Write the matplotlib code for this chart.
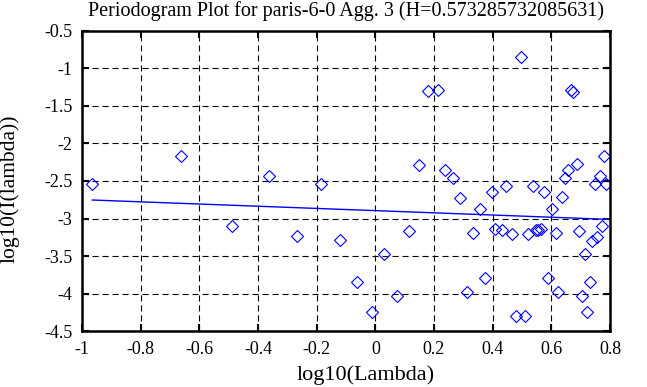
import numpy as np
import matplotlib
matplotlib.use("Agg")
import matplotlib.pyplot as plt
from matplotlib.ticker import FuncFormatter, MultipleLocator

plt.rcParams['font.family'] = ['Liberation Serif', 'DejaVu Serif']
plt.rcParams['axes.unicode_minus'] = False

# datos
log_lambda = [-0.965, -0.662, -0.490, -0.362, -0.268, -0.186, -0.120, -0.063, -0.012, 0.031,
              0.075, 0.114, 0.149, 0.179, 0.213, 0.238, 0.264, 0.287, 0.311, 0.334,
              0.357, 0.374, 0.397, 0.409, 0.431, 0.446, 0.465, 0.480, 0.497, 0.510,
              0.522, 0.539, 0.547, 0.556, 0.565, 0.575, 0.590, 0.601, 0.615, 0.624,
              0.636, 0.646, 0.656, 0.666, 0.675, 0.686, 0.695, 0.704, 0.715, 0.723,
              0.732, 0.740, 0.749, 0.757, 0.765, 0.774, 0.781, 0.788]
log_I = [-2.537, -2.161, -3.105, -2.436, -3.238, -2.537, -3.285, -3.845, -4.243, -3.477,
         -4.031, -3.162, -2.281, -1.297, -1.288, -2.360, -2.460, -2.720, -3.978, -3.188,
         -2.870, -3.791, -2.645, -3.142, -3.158, -2.569, -3.202, -4.300, -0.846, -4.297,
         -3.202, -2.569, -3.152, -3.158, -3.135, -2.649, -3.791, -2.875, -3.196, -3.986,
         -2.715, -2.460, -2.355, -1.284, -1.307, -2.275, -3.162, -4.031, -3.477, -4.243,
         -3.845, -3.300, -2.545, -3.245, -2.430, -3.100, -2.161, -2.537]

H = 0.573285732085631
pendiente = 1 - 2 * H
intercepto = -2.895
x_recta = [-0.965, 0.8]

fig = plt.figure(figsize=(6.47, 3.87), dpi=100)
ax = fig.add_axes([0.1267, 0.1447, 0.8161, 0.7752])

ax.plot(log_lambda, log_I, linestyle='none', marker='D', ms=6.6, mfc='none',
        mec='#0000ff', mew=0.8)
xr = np.array(x_recta)
ax.plot(xr, intercepto + pendiente * xr, color='#0000ff', lw=1)

ax.set_xlim(-1, 0.8)
ax.set_ylim(-4.5, -0.5)
ax.xaxis.set_major_locator(MultipleLocator(0.2))
ax.yaxis.set_major_locator(MultipleLocator(0.5))
fmt = FuncFormatter(lambda v, p: '%g' % round(v, 6))
ax.xaxis.set_major_formatter(fmt)
ax.yaxis.set_major_formatter(fmt)

ax.grid(True, color='black', lw=0.8, linestyle=(0, (5.5, 3.5)))
ax.tick_params(direction='in', length=5, width=1.5, top=True, right=True,
               labelsize=13, pad=7)
for s in ax.spines.values():
    s.set_linewidth(1.8)

ax.set_title('Periodogram Plot for paris-6-0 Agg. 3 (H=0.573285732085631)',
             fontsize=14.5, pad=11)
ax.set_xlabel('log10(Lambda)', fontsize=16)
ax.set_ylabel('log10(I(lambda))', fontsize=15.5)
ax.xaxis.set_label_coords(0.538, -0.115)
ax.yaxis.set_label_coords(-0.118, 0.475)

plt.savefig('out.png', dpi=100)
